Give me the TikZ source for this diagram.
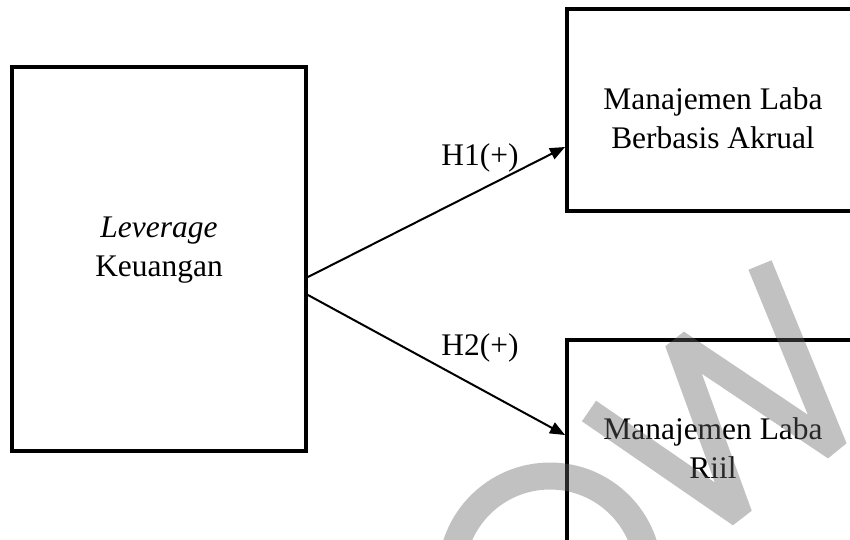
\documentclass[tikz,border=0pt]{standalone}
\usepackage{fontspec}
\setmainfont{Liberation Serif}
\usepackage{xcolor}
\usetikzlibrary{positioning,calc,arrows.meta}
\definecolor{wmgray}{RGB}{100,100,100}

\begin{document}
\begin{tikzpicture}[x=0.02cm, y=-0.02cm,
  varbox/.style={draw, line width=0.08cm, inner sep=0pt},
  boxtext/.style={align=center, font=\fontsize{17.9pt}{22.1pt}\selectfont},
  hyp/.style={line width=0.04cm, -{Triangle[length=0.3cm, width=0.24cm]}},
  watermark/.style={draw=wmgray, opacity=0.4, line width=0.5cm}]
  \useasboundingbox (0,0) rectangle (850,539);
  \clip (0,0) rectangle (850,539);

  % Independent variable (left)
  \node[varbox, minimum width=5.88cm, minimum height=7.68cm] (lev) at (159,259) {};
  \node[boxtext] (levtxt) at (159,250) {\textit{Leverage}\\Keuangan};

  % Dependent variables (right, cut off at the page edge)
  \node[varbox, minimum width=5.84cm, minimum height=4.04cm] (akrual) at (713,110) {};
  \node[boxtext] (akrualtxt) at (713,118) {Manajemen Laba\\Berbasis Akrual};
  \node[varbox, minimum width=5.84cm, minimum height=4.04cm] (riil) at (713,441) {};
  \node[boxtext] (riiltxt) at (713,448) {Manajemen Laba\\Riil};

  % Hypotheses
  \coordinate (h1start) at ($(lev.east)+(0,18)$);
  \coordinate (h1end) at ($(akrual.west)+(0,37)$);
  \coordinate (h2start) at ($(lev.east)+(0,36)$);
  \coordinate (h2end) at ($(riil.west)+(0,-6)$);
  \draw[hyp] (h1start) -- (h1end);
  \draw[hyp] (h2start) -- (h2end);
  \node[boxtext, anchor=base] (h1lbl) at (480,165) {H1(+)};
  \node[boxtext, anchor=base] (h2lbl) at (480,355) {H2(+)};

  % Watermark
  \draw[watermark, line join=bevel] (589,411) -- (740,515) -- (677,342) -- (835,448) -- (760,265);
  \draw[watermark, line width=0.54cm] (550,574.5) circle[radius=98.5];
\end{tikzpicture}
\end{document}
